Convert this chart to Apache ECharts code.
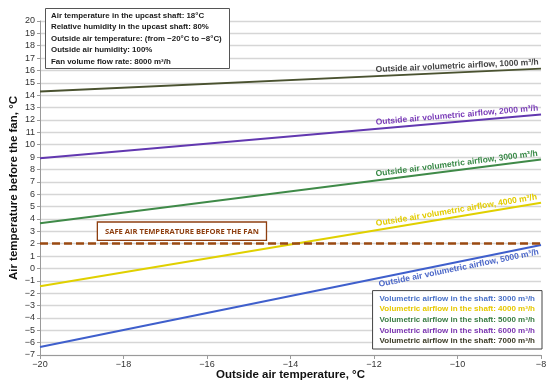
<!DOCTYPE html>
<html>
<head>
<meta charset="utf-8">
<script src="https://cdn.jsdelivr.net/npm/echarts@6/dist/echarts.min.js"></script>
<style>html,body{margin:0;padding:0;background:#fff}#c{width:550px;height:386px}</style>
</head>
<body>
<div id="c"></div>
<script>
// ---- data ----
var xValues = [-20, -8];
var shaft3000 = [-6.35, 1.9];
var shaft4000 = [-1.45, 5.3];
var shaft5000 = [3.65, 8.8];
var shaft6000 = [8.9, 12.45];
var shaft7000 = [14.3, 16.15];
var seriesNames = [
  'Volumetric airflow in the shaft: 3000 m³/h',
  'Volumetric airflow in the shaft: 4000 m³/h',
  'Volumetric airflow in the shaft: 5000 m³/h',
  'Volumetric airflow in the shaft: 6000 m³/h',
  'Volumetric airflow in the shaft: 7000 m³/h'
];
var lineLabels = [
  'Outside air volumetric airflow, 5000 m³/h',
  'Outside air volumetric airflow, 4000 m³/h',
  'Outside air volumetric airflow, 3000 m³/h',
  'Outside air volumetric airflow, 2000 m³/h',
  'Outside air volumetric airflow, 1000 m³/h'
];
var safeTemp = 2;
var safeText = 'SAFE AIR TEMPERATURE BEFORE THE FAN';
var infoLines = [
  'Air temperature in the upcast shaft: 18°C',
  'Relative humidity in the upcast shaft: 80%',
  'Outside air temperature: (from \u221220°C to \u22128°C)',
  'Outside air humidity: 100%',
  'Fan volume flow rate: 8000 m³/h'
];
var xMin = -20, xMax = -8, yMin = -7, yMax = 20;

// ---- styling ----
var lineColors = ['#3f5fcc', '#e0d000', '#3f8a48', '#6238b0', '#4a5230'];
var labelColors = ['#4a66c8', '#e2cc00', '#3a8a48', '#7a3cb8', '#454545'];
var legendColors = ['#4a72c8', '#e6c800', '#3a7d44', '#7a34b0', '#3d3d28'];
var labelSide = [1, -1, -1, -1, -1]; // 1: below line, -1: above line
var font = 'Liberation Sans, Arial, sans-serif';

var gridL = 40, gridR = 9, gridT = 21, gridB = 31;
var W = 550, H = 386;
var pw = W - gridL - gridR, ph = H - gridT - gridB;

var allData = [shaft3000, shaft4000, shaft5000, shaft6000, shaft7000];
var labelX = -10.0;

var series = allData.map(function (vals, i) {
  var slopeData = (vals[1] - vals[0]) / (xValues[1] - xValues[0]);
  var slopePx = slopeData * (ph / (yMax - yMin)) / (pw / (xMax - xMin));
  var ang = Math.atan(slopePx) * 180 / Math.PI;
  var yAt = vals[0] + slopeData * (labelX - xValues[0]);
  var s = {
    name: seriesNames[i],
    type: 'line',
    data: xValues.map(function (x, k) { return [x, vals[k]]; }),
    symbol: 'none',
    lineStyle: { color: lineColors[i], width: 2 },
    itemStyle: { color: lineColors[i] },
    z: 3,
    markPoint: {
      symbol: 'circle', symbolSize: 0,
      silent: true,
      data: [{ coord: [labelX, yAt], value: 0 }],
      label: {
        show: true,
        formatter: lineLabels[i],
        position: 'inside',
        rotate: ang,
        offset: [0, labelSide[i] * 6.5],
        color: labelColors[i],
        fontFamily: font,
        fontWeight: 'bold',
        fontSize: 8.5
      }
    }
  };
  if (i === 0) {
    s.markLine = {
      silent: true,
      symbol: ['none', 'none'],
      data: [{ yAxis: safeTemp }],
      lineStyle: { color: '#9a4a12', type: [8, 4], width: 2.5 },
      label: {
        show: true,
        position: 'insideStartTop',
        distance: [58, 4],
        formatter: safeText,
        color: '#8e3f10',
        fontFamily: 'Open Sans, sans-serif',
        fontWeight: 'bold',
        fontSize: 7.6,
        backgroundColor: '#fff',
        borderColor: '#8e3f10',
        borderWidth: 1.3,
        padding: [5, 7, 4, 7]
      },
      z: 5
    };
  }
  return s;
});

var chart = echarts.init(document.getElementById('c'), null, { renderer: 'canvas' });
chart.setOption({
  animation: false,
  backgroundColor: '#fff',
  textStyle: { fontFamily: font },
  title: {
    text: infoLines.join('\n'),
    left: 45, top: 8,
    backgroundColor: '#fff',
    borderColor: '#555',
    borderWidth: 1,
    padding: [2, 8, 1, 6],
    textStyle: { fontFamily: font, fontWeight: 'bold', fontSize: 7.9, color: '#1a1a1a', lineHeight: 11.5 }
  },
  legend: {
    orient: 'vertical',
    right: 8, bottom: 37,
    data: seriesNames.map(function (n, i) { return { name: n, textStyle: { color: legendColors[i] } }; }),
    itemWidth: 0, itemHeight: 0, itemGap: 2.6,
    icon: 'rect',
    selectedMode: false,
    backgroundColor: '#fff',
    borderColor: '#444',
    borderWidth: 1,
    padding: [4, 7, 4, 2],
    textStyle: { fontFamily: font, fontWeight: 'bold', fontSize: 8, padding: [0, 0, 0, 0] }
  },
  grid: { left: gridL, right: gridR, top: gridT, bottom: gridB, containLabel: false, outerBoundsMode: 'none' },
  xAxis: {
    type: 'value', min: xMin, max: xMax, interval: 2,
    name: 'Outside air temperature, °C',
    nameLocation: 'middle', nameGap: 14, nameMoveOverlap: false,
    nameTextStyle: { fontFamily: font, fontWeight: 'bold', fontSize: 11.5, color: '#111' },
    axisLine: { show: true, onZero: false, lineStyle: { color: '#9a9a9a', width: 1 } },
    axisTick: { show: true, length: 4, lineStyle: { color: '#9a9a9a' } },
    axisLabel: { color: '#333', fontSize: 9, margin: 5,
      formatter: function (v) { return String(v).replace('-', '\u2212'); } },
    splitLine: { show: false }
  },
  yAxis: {
    type: 'value', min: yMin, max: yMax, interval: 1,
    name: 'Air temperature before the fan, °C',
    nameLocation: 'middle', nameGap: 20, nameMoveOverlap: false,
    nameTextStyle: { fontFamily: font, fontWeight: 'bold', fontSize: 11.5, color: '#111' },
    axisLine: { show: true, onZero: false, lineStyle: { color: '#9a9a9a', width: 1 } },
    axisTick: { show: true, length: 3, lineStyle: { color: '#9a9a9a' } },
    axisLabel: { color: '#333', fontSize: 9, margin: 5,
      formatter: function (v) { return String(v).replace('-', '\u2212'); } },
    splitLine: { show: true, lineStyle: { color: '#d6d6d6', width: 1.3 } }
  },
  series: series
});
</script>
</body>
</html>
